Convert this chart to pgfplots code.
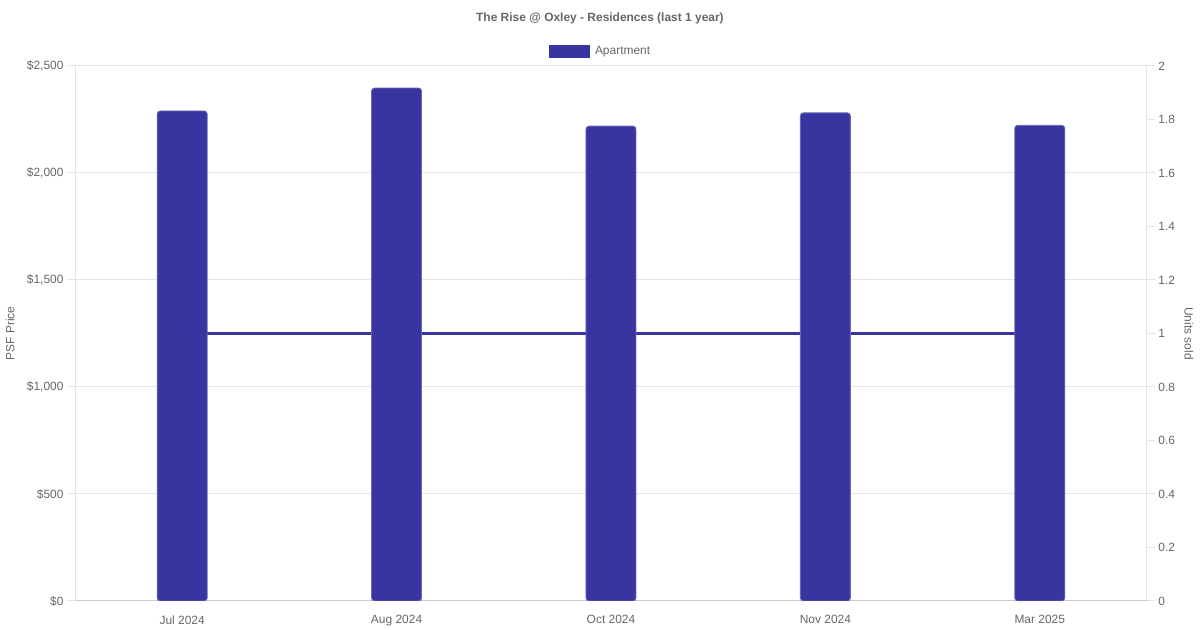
\documentclass[border=0pt]{standalone}
\usepackage{fontspec}
\setmainfont{Liberation Sans}
\usepackage{pgfplots}
\pgfplotsset{compat=1.18}

\definecolor{barcol}{RGB}{57,53,160}
\definecolor{txtgray}{RGB}{102,102,102}
\definecolor{gridgray}{RGB}{229,229,229}
\definecolor{axisgray}{RGB}{204,204,204}

\pgfplotsset{
  base/.style={
    scale only axis,
    width=1072bp, height=535bp,
    at={(75bp,29bp)}, anchor=south west,
    xmin=-0.5, xmax=4.5,
    tick align=outside,
    major tick length=8bp,
    tick style={draw=gridgray, line width=1bp},
    ticklabel style={font=\fontsize{12}{14}\selectfont, text=txtgray},
    label style={font=\fontsize{12}{14}\selectfont, text=txtgray},
    /pgf/number format/assume math mode=true,
  }
}

\begin{document}
\begin{tikzpicture}
\path[use as bounding box] (0,0) rectangle (1200bp,630bp);

% units sold, drawn first so the bars sit on top of it
\begin{axis}[
  base,
  ymin=0, ymax=2,
  axis y line*=right,
  axis x line=none,
  y axis line style={draw=gridgray, line width=1bp},
  ytick={0,0.2,0.4,0.6,0.8,1,1.2,1.4,1.6,1.8,2},
  yticklabels={0,0.2,0.4,0.6,0.8,1,1.2,1.4,1.6,1.8,2},
  ylabel={Units sold},
  ylabel style={at={(axis description cs:1.0392,0.5)}, anchor=center, rotate=180},
]
\addplot[barcol, line width=3bp, no marks] coordinates {
  (0,1) (1,1) (2,1) (3,1) (4,1)
};
\end{axis}

% PSF price bars
\begin{axis}[
  base,
  ymin=0, ymax=2500,
  axis x line*=bottom,
  axis y line*=left,
  x axis line style={draw=axisgray, line width=1bp},
  y axis line style={draw=gridgray, line width=1bp},
  xtick=data,
  xticklabels={Jul 2024,Aug 2024,Oct 2024,Nov 2024,Mar 2025},
  xticklabel style={yshift=-3bp},
  x tick style={draw=none},
  ytick={0,500,1000,1500,2000,2500},
  yticklabel={\$\pgfmathprintnumber[fixed,1000 sep={,}]{\tick}},
  ymajorgrids,
  grid style={draw=gridgray, line width=1bp},
  ylabel={PSF Price},
  ylabel style={at={(axis description cs:-0.0606,0.5)}, anchor=center},
  title={The Rise @ Oxley - Residences (last 1 year)},
  title style={at={(axis description cs:0.4897,1.0785)}, anchor=center,
    font=\bfseries\fontsize{12}{14}\selectfont, text=txtgray},
  legend style={at={(axis description cs:0.4422,1.028)}, anchor=west,
    draw=none, fill=none, inner sep=0pt,
    font=\fontsize{12}{14}\selectfont, text=txtgray},
  legend image code/.code={\fill[barcol, sharp corners] (0bp,-6bp) rectangle (40bp,6bp);
    \path (43bp,0bp);},
]
\addplot[ybar, bar width=50bp, fill=barcol, draw=barcol!75!white,
  line width=0.8bp, rounded corners=3bp] coordinates {
  (0,2290) (1,2397) (2,2219) (3,2281) (4,2223)
};
\addlegendentry{Apartment}
\end{axis}
\end{tikzpicture}
\end{document}
